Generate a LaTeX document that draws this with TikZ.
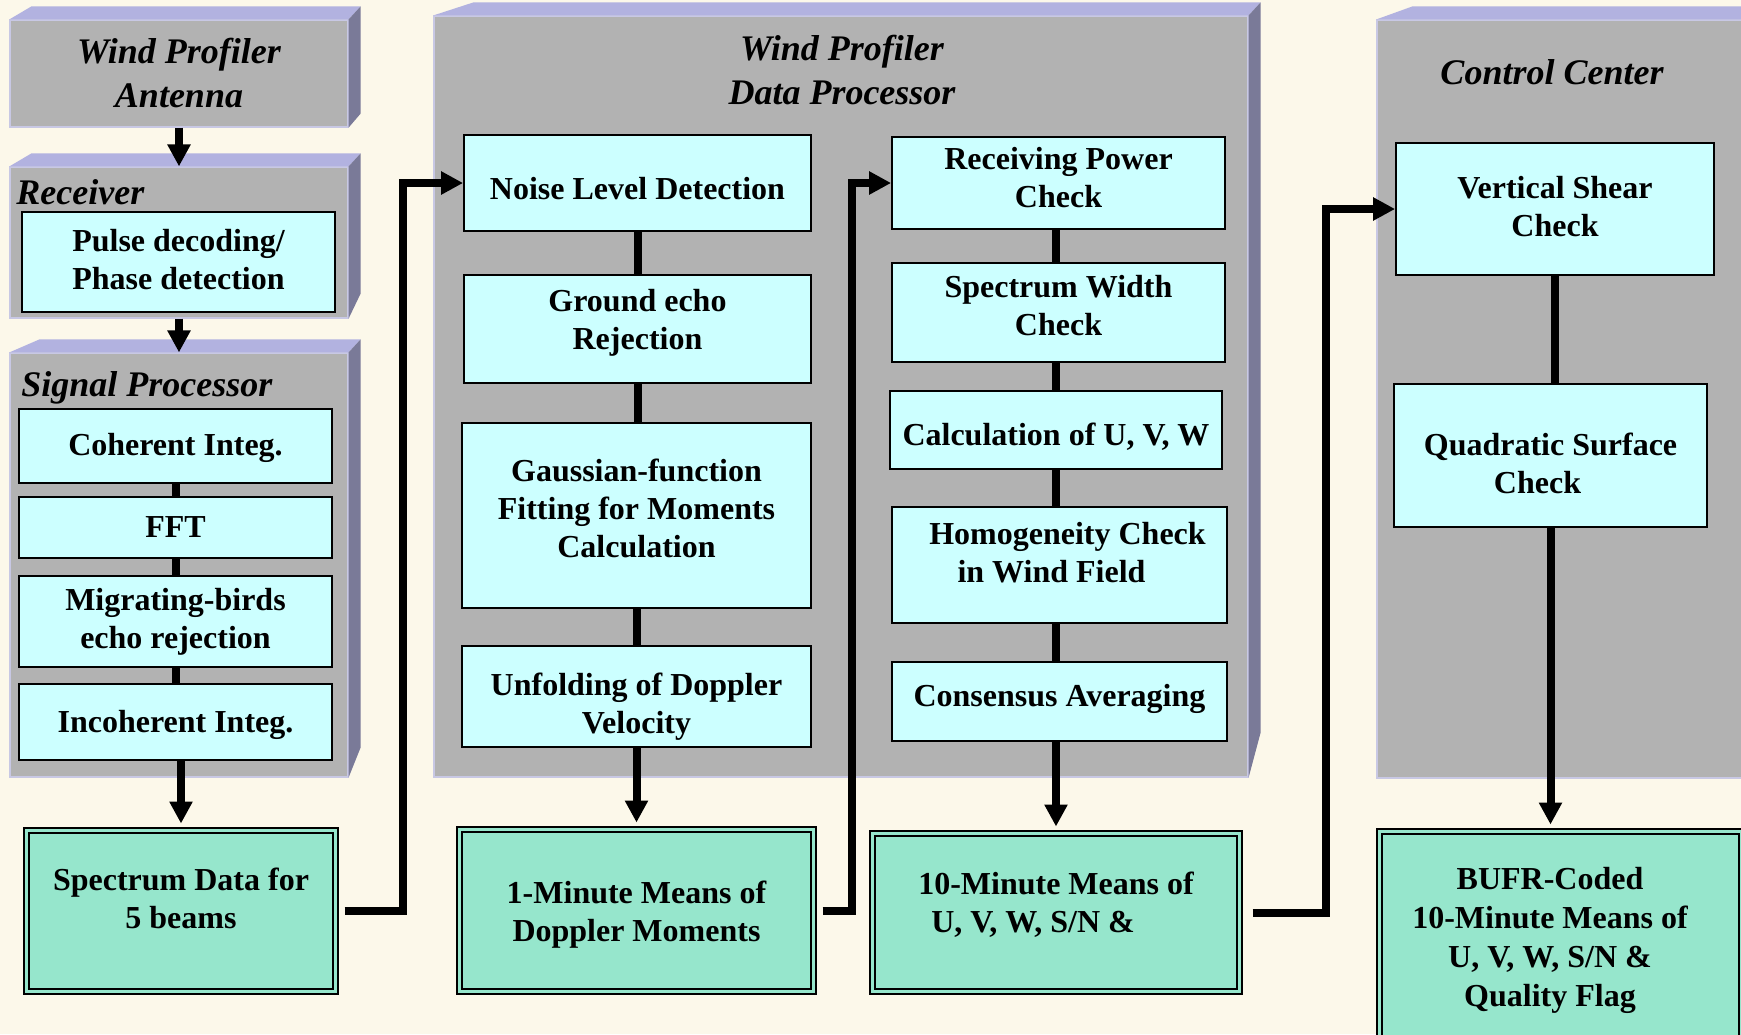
\documentclass[tikz,border=0pt]{standalone}
\usepackage{fontspec}
\setmainfont{Liberation Serif}
\usetikzlibrary{arrows.meta}
\definecolor{bgcream}{RGB}{252,248,234}
\definecolor{panelfront}{RGB}{178,178,178}
\definecolor{paneltop}{RGB}{178,178,224}
\definecolor{panelside}{RGB}{122,122,152}
\definecolor{panelline}{RGB}{200,200,228}
\definecolor{cyanbox}{RGB}{204,255,255}
\definecolor{mint}{RGB}{150,230,204}
\tikzset{
    sz/.style 2 args = {minimum width = #1*0.5pt, minimum height = #2*0.5pt},
    panel/.style = {fill = panelfront, draw = panelline, line width = 0.6pt, inner sep = 0pt},
    ttl/.style = {font = \fontsize{18}{22}\selectfont\bfseries\itshape, inner sep = 0pt, align = center},
    cbox/.style = {draw, fill = cyanbox, line width = 0.9pt, inner sep = 0pt, align = center, font = \fontsize{16}{19}\selectfont\bfseries},
    gbox/.style = {draw, fill = mint, double = mint, double distance = 1.5pt, line width = 1pt, inner sep = 0pt, align = center, font = \fontsize{16}{19}\selectfont\bfseries},
    link/.style = {line width = 4pt},
    arr/.style = {line width = 4pt, -{Triangle[width = 11pt, length = 11pt]}}
}
\newcommand{\panelfaces}[3]{%
    \fill[paneltop] (#1.north west) -- ++(#2,-13) -- ([shift = {(12,-13)}]#1.north east) -- (#1.north east) -- cycle;
    \fill[panelside] (#1.north east) -- ++(12,-13) -- ([shift = {(12,-#3)}]#1.south east) -- (#1.south east) -- cycle;
}
\newcommand{\vpadbot}[1]{\rule[-#1]{0pt}{#1}}
\newcommand{\vpadtop}[1]{\rule{0pt}{#1}}

\begin{document}
\begin{tikzpicture}[x = 0.5pt, y = -0.5pt]
    \useasboundingbox (0,0) rectangle (1741,1034);
    \fill[bgcream] (0,0) rectangle (1741,1034);
    \clip (0,0) rectangle (1741,1034);

    \node (antenna) at (179,73.5) [panel, ttl, sz = {338}{107}] {Wind Profiler\\Antenna};
    \node (receiver) at (179,242.5) [panel, sz = {338}{151}] {};
    \node (sigproc) at (179,565) [panel, sz = {338}{424}] {};
    \node (dataproc) at (841,396.5) [panel, sz = {814}{761}] {};
    \node (control) at (1588.5,399) [panel, sz = {423}{758}] {};
    \panelfaces{antenna}{22}{14}
    \panelfaces{receiver}{22}{25}
    \panelfaces{sigproc}{30}{30}
    \panelfaces{dataproc}{40}{45}
    \panelfaces{control}{36}{45}

    \node (rcvtitle) at (16,204) [ttl, anchor = base west] {Receiver};
    \node (sptitle) at (21,396) [ttl, anchor = base west] {Signal Processor};
    \node (dptitle) at (842,70) [ttl] {Wind Profiler\\Data Processor};
    \node (cctitle) at (1552,84) [ttl, anchor = base] {Control Center};

    \node (pulse) at (178.5,262) [cbox, sz = {313}{100}] {Pulse decoding/\\Phase detection\vpadbot{3pt}};
    \node (coh) at (175.5,446) [cbox, sz = {313}{74}] {\vpadtop{13pt}Coherent Integ.};
    \node (fft) at (175.5,527.5) [cbox, sz = {313}{61}] {FFT};
    \node (mig) at (175.5,621.5) [cbox, sz = {313}{91}] {Migrating-birds\\echo rejection};
    \node (incoh) at (175.5,722) [cbox, sz = {313}{76}] {\vpadtop{14.3pt}Incoherent Integ.};

    \node (noise) at (637.5,183) [cbox, sz = {347}{96}] {\vpadtop{17pt}Noise Level Detection};
    \node (ground) at (637.5,329) [cbox, sz = {347}{108}] {Ground echo\\Rejection\vpadbot{10pt}};
    \node (gauss) at (636.5,515.5) [cbox, sz = {349}{185}] {Gaussian-function\\Fitting for Moments\\Calculation\vpadbot{7.3pt}};
    \node (unfold) at (636.5,696.5) [cbox, sz = {349}{101}] {\vpadtop{21.5pt}Unfolding of Doppler\\Velocity};

    \node (rpower) at (1058.5,183) [cbox, sz = {333}{92}] {Receiving Power\\Check\vpadbot{5.4pt}};
    \node (swidth) at (1058.5,312.5) [cbox, sz = {333}{99}] {Spectrum Width\\Check\vpadbot{7.3pt}};
    \node (calc) at (1056,430) [cbox, sz = {332}{78}] {\vpadtop{17.5pt}Calculation of U, V, W};
    \node (homog) at (1059.5,565) [cbox, sz = {335}{116}] {\hspace*{8pt}Homogeneity Check\\in Wind Field\hspace*{8pt}\vpadbot{12.5pt}};
    \node (consen) at (1059.5,701.5) [cbox, sz = {335}{79}] {Consensus Averaging\vpadbot{6.5pt}};

    \node (vshear) at (1555,209) [cbox, sz = {318}{132}] {Vertical Shear\\Check\vpadbot{3pt}};
    \node (quad) at (1550.5,455.5) [cbox, sz = {313}{143}] {\vpadtop{19pt}Quadratic Surface\\Check\hspace*{13pt}};

    \node (spec) at (181,911) [gbox, sz = {309}{161}] {Spectrum Data for\\5 beams\vpadbot{13pt}};
    \node (onemin) at (636.5,910.5) [gbox, sz = {354}{162}] {\vpadtop{15.5pt}1-Minute Means of\\Doppler Moments};
    \node (tenmin) at (1056,912.5) [gbox, sz = {367}{158}, align = left] {10-Minute Means of\\\hspace*{6.5pt}U, V, W, S/N \&\vpadbot{10pt}};
    \node (bufr) at (1560,937) [gbox, sz = {362}{211}, font = \fontsize{16}{19.5}\selectfont\bfseries] {\vpadtop{14.5pt}BUFR-Coded\rule{10pt}{0pt}\\10-Minute Means of\rule{10pt}{0pt}\\U, V, W, S/N \&\rule{10pt}{0pt}\\Quality Flag\rule{10pt}{0pt}};

    \draw[link] (coh) -- (fft);
    \draw[link] (fft) -- (mig);
    \draw[link] (mig) -- (incoh);
    \draw[link] (noise.south) -- (noise.south |- ground.north);
    \draw[link] (ground.south) -- (ground.south |- gauss.north);
    \draw[link] (gauss) -- (unfold);
    \draw[link] (rpower.south -| calc) -- (swidth.north -| calc);
    \draw[link] (swidth.south -| calc) -- (calc);
    \draw[link] (calc) -- (homog.north -| calc);
    \draw[link] (homog.south -| calc) -- (consen.north -| calc);
    \draw[link] (vshear.south) -- (vshear.south |- quad.north);

    \draw[arr] (antenna) -- (receiver);
    \draw[arr] (receiver) -- (sigproc);
    \draw[arr, shorten > = 3pt] (incoh.south -| spec.north) -- (spec.north);
    \draw[arr, shorten > = 3pt] (unfold) -- (onemin);
    \draw[arr, shorten > = 3pt] (consen.south -| tenmin.north) -- (tenmin.north);
    \draw[arr, shorten > = 3pt] (quad.south) -- (quad.south |- bufr.north);

    \draw[arr, shorten < = 4pt] (spec.east) -- ++(66,0) |- (noise.west);
    \draw[arr, shorten < = 4pt] (onemin.east) -- ++(37,0) |- (rpower.west);
    \draw[arr, shorten < = 6pt] (tenmin.east) -- ++(85,0) |- (vshear.west);
\end{tikzpicture}
\end{document}
